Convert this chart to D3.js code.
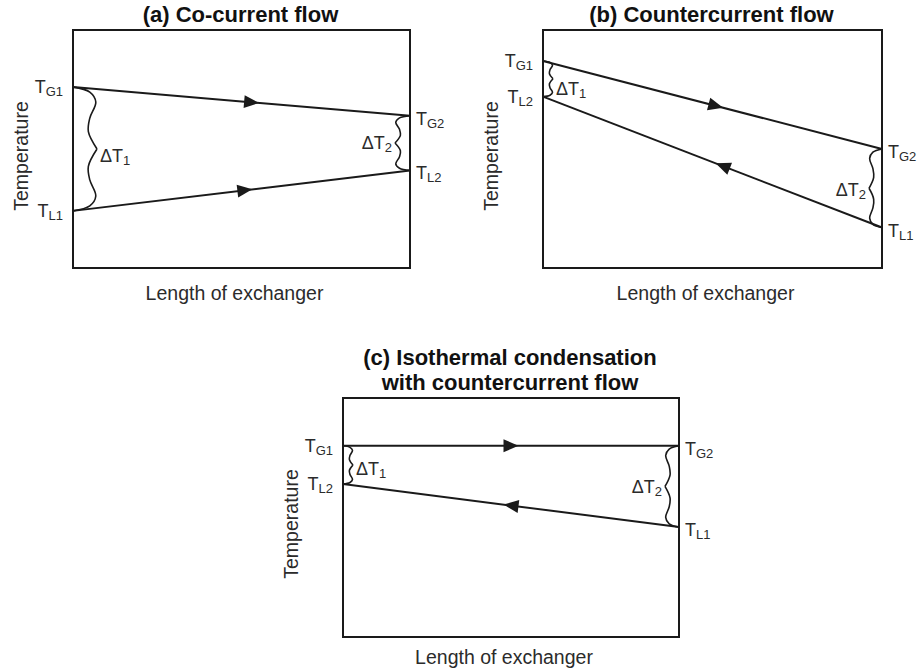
<!DOCTYPE html>
<html>
<head>
<meta charset="utf-8">
<script src="https://cdn.jsdelivr.net/npm/d3@7"></script>
<style>
  body { margin: 0; background: #fff; }
  svg { display: block; font-family: "Liberation Sans", Arial, sans-serif; }
</style>
</head>
<body>
<div id="chart"></div>
<script>
// Temperature profiles along the exchanger (position 0 = left end, 1 = right end)
const panelTitles = [["(a) Co-current flow"], ["(b) Countercurrent flow"], ["(c) Isothermal condensation", "with countercurrent flow"]];
const lengthEnds = [0, 1];
const gasTemps = [[76, 64], [87, 50], [80, 80]];
const liquidTemps = [[24, 41], [72, 17], [64, 46]];
const gasNames = [["G1", "G2"], ["G1", "G2"], ["G1", "G2"]];
const liquidNames = [["L1", "L2"], ["L2", "L1"], ["L2", "L1"]];
const gasFlow = [1, 1, 1];       // +1 left to right, -1 right to left
const liquidFlow = [1, -1, -1];
const arrowAt = [[0.53, 0.51], [0.51, 0.53], [0.5, 0.5]];
const deltaNames = ["1", "2"];
const xLabel = "Length of exchanger";
const yLabel = "Temperature";

const width = 920, height = 672;

// box placement of each panel
const frames = [
  {x: 73, y: 30, w: 337, h: 238, braceW: [24, 15], dtDy: [7, 0], yLab: 156, xLab: 293},
  {x: 543, y: 30, w: 339, h: 238, braceW: [10, 13], dtDy: [10, 2], yLab: 156, xLab: 293},
  {x: 343, y: 398, w: 336, h: 239, braceW: [10, 14], dtDy: [4, 1], yLab: 524, xLab: 657}
];

const svg = d3.select("#chart").append("svg")
    .attr("width", width)
    .attr("height", height);

const ink = "#1a1a1a";
const textInk = "#2b2b2b";

// wavy half-brace shape: [fraction of width, fraction of span]
const braceShape = [[0, 0], [0.7, 0.04], [0.95, 0.12], [0.7, 0.25], [0.64, 0.36], [1, 0.5]];
const braceLine = d3.line().curve(d3.curveCatmullRom.alpha(0.5));

// vertical curly brace at x from ya to yb, bulging to side s
function brace(x, ya, yb, w, s) {
  const len = yb - ya;
  const upper = braceShape.map(p => [x + s * p[0] * w, ya + p[1] * len]);
  const lower = braceShape.map(p => [x + s * p[0] * w, yb - p[1] * len]);
  return braceLine(upper) + braceLine(lower);
}

function subLabel(g, x, y, main, sub, anchor) {
  const t = g.append("text")
      .attr("x", x)
      .attr("y", y)
      .attr("text-anchor", anchor)
      .attr("fill", textInk)
      .attr("font-size", 18);
  t.append("tspan").text(main);
  t.append("tspan").attr("font-size", 13).attr("dy", 3).text(sub);
  return t;
}

frames.forEach((f, i) => {
  const g = svg.append("g");
  const x = d3.scaleLinear().domain([0, 1]).range([f.x, f.x + f.w]);
  const y = d3.scaleLinear().domain([0, 100]).range([f.y + f.h, f.y]);
  const line = d3.line().x(d => x(d[0])).y(d => y(d[1]));

  // title
  const titleLines = panelTitles[i];
  const cx = x(0.5) - 1;
  g.append("text")
      .attr("text-anchor", "middle")
      .attr("font-weight", "bold")
      .attr("font-size", 22)
      .attr("fill", "#111")
    .selectAll("tspan")
    .data(titleLines)
    .join("tspan")
      .attr("x", cx)
      .attr("y", (d, k) => f.y - 8 - (titleLines.length - 1 - k) * 25)
      .text(d => d);

  // frame
  g.append("rect")
      .attr("x", x(0)).attr("y", y(100))
      .attr("width", x(1) - x(0)).attr("height", y(0) - y(100))
      .attr("fill", "none")
      .attr("stroke", ink)
      .attr("stroke-width", 2);

  // axis labels
  g.append("text")
      .attr("transform", `translate(${f.x - 52},${f.yLab}) rotate(-90)`)
      .attr("text-anchor", "middle")
      .attr("dy", "0.35em")
      .attr("font-size", 19.5)
      .attr("fill", textInk)
      .text(yLabel);
  g.append("text")
      .attr("x", cx - 6)
      .attr("y", f.xLab)
      .attr("text-anchor", "middle")
      .attr("dy", "0.35em")
      .attr("font-size", 19.5)
      .attr("fill", textInk)
      .text(xLabel);

  const streams = [
    {temps: gasTemps[i], names: gasNames[i], flow: gasFlow[i], at: arrowAt[i][0]},
    {temps: liquidTemps[i], names: liquidNames[i], flow: liquidFlow[i], at: arrowAt[i][1]}
  ];

  streams.forEach(st => {
    const pts = lengthEnds.map((p, k) => [p, st.temps[k]]);
    g.append("path")
        .attr("d", line(pts))
        .attr("fill", "none")
        .attr("stroke", ink)
        .attr("stroke-width", 2);

    // flow arrow
    const x0 = x(pts[0][0]), y0 = y(pts[0][1]), x1 = x(pts[1][0]), y1 = y(pts[1][1]);
    const ax = x0 + (x1 - x0) * st.at, ay = y0 + (y1 - y0) * st.at;
    let ang = Math.atan2(y1 - y0, x1 - x0) * 180 / Math.PI;
    if (st.flow < 0) ang += 180;
    g.append("path")
        .attr("d", "M7.5,0L-7.5,-6.5L-7.5,6.5Z")
        .attr("transform", `translate(${ax},${ay}) rotate(${ang})`)
        .attr("fill", ink);

    // end labels
    subLabel(g, x(0) - 10, y(st.temps[0]) + 6, "T", st.names[0], "end");
    subLabel(g, x(1) + 6, y(st.temps[1]) + 9, "T", st.names[1], "start");
  });

  // temperature differences at each end
  lengthEnds.forEach((p, k) => {
    const top = Math.min(y(gasTemps[i][k]), y(liquidTemps[i][k]));
    const bot = Math.max(y(gasTemps[i][k]), y(liquidTemps[i][k]));
    const s = k === 0 ? 1 : -1;
    const w = f.braceW[k];
    g.append("path")
        .attr("d", brace(x(p), top, bot, w, s))
        .attr("fill", "none")
        .attr("stroke", ink)
        .attr("stroke-width", 1.6);
    const mid = (top + bot) / 2 + f.dtDy[k];
    subLabel(g, x(p) + s * (w + 3), mid + 6, "\u0394T", deltaNames[k], k === 0 ? "start" : "end");
  });
});
</script>
</body>
</html>
